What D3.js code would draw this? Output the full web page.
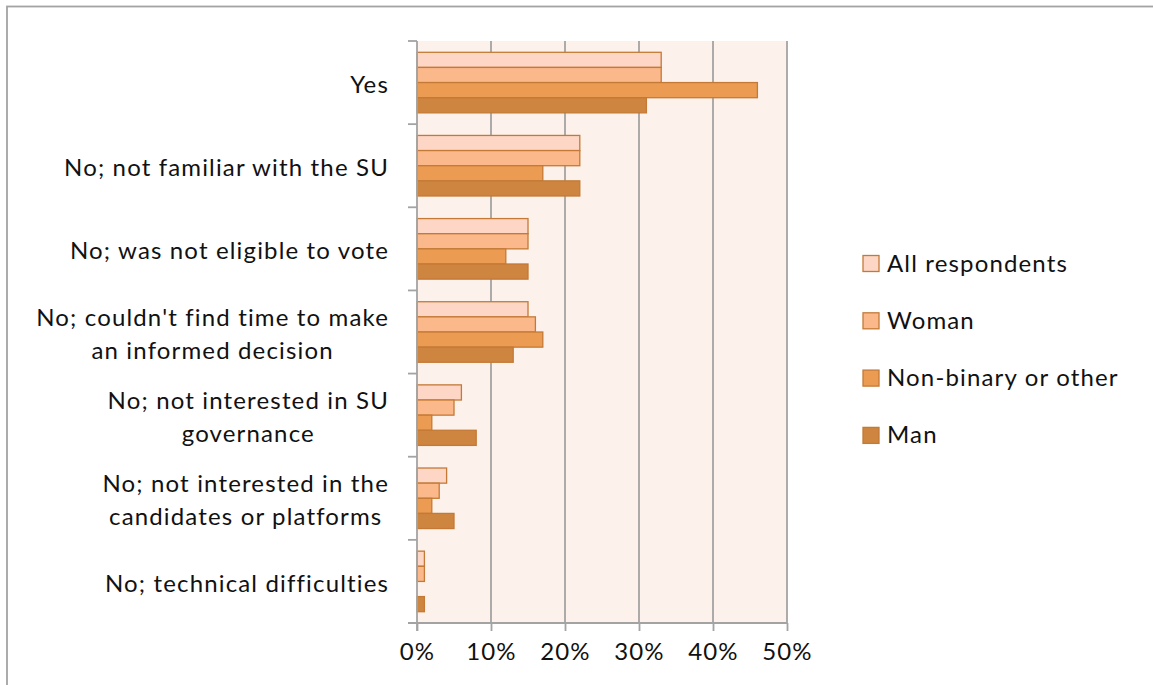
<!DOCTYPE html>
<html>
<head>
<meta charset="utf-8">
<script src="https://cdn.jsdelivr.net/npm/d3@7"></script>
<style>
  html, body { margin: 0; padding: 0; background: #fff; }
  svg { display: block; font-family: Lato, "Open Sans", sans-serif; }
  text { letter-spacing: 1.15px; }
</style>
</head>
<body>
<svg id="chart" width="1153" height="685"></svg>
<script>
// ---- data ----
const categories = [
  "Yes",
  "No; not familiar with the SU",
  "No; was not eligible to vote",
  "No; couldn't find time to make an informed decision",
  "No; not interested in SU governance",
  "No; not interested in the candidates or platforms",
  "No; technical difficulties"
];
const categoryLines = [
  ["Yes"],
  ["No; not familiar with the SU"],
  ["No; was not eligible to vote"],
  ["No; couldn't find time to make", "an informed decision"],
  ["No; not interested in SU", "governance"],
  ["No; not interested in the", "candidates or platforms"],
  ["No; technical difficulties"]
];
const seriesNames = ["All respondents", "Woman", "Non-binary or other", "Man"];
const allRespondents = [0.33, 0.22, 0.15, 0.15, 0.06, 0.04, 0.01];
const woman          = [0.33, 0.22, 0.15, 0.16, 0.05, 0.03, 0.01];
const nonBinary      = [0.46, 0.17, 0.12, 0.17, 0.02, 0.02, 0.00];
const man            = [0.31, 0.22, 0.15, 0.13, 0.08, 0.05, 0.01];
const xTicks = [0, 0.1, 0.2, 0.3, 0.4, 0.5];

const seriesValues = [allRespondents, woman, nonBinary, man];
const fills = ["#FDD6C5", "#FBB98B", "#EC9C52", "#CD853F"];
const strokeCol = "#C47A36";
const gridCol = "#A3A3A3";
const fontSize = 24;

// ---- layout ----
const svg = d3.select("#chart");
const pLeft = 417, pRight = 787, pTop = 41, pBottom = 623;

// outer frame
svg.append("rect")
  .attr("x", 7).attr("y", 6.5)
  .attr("width", 1300).attr("height", 1000)
  .attr("fill", "none").attr("stroke", gridCol).attr("stroke-width", 1.8);

const x = d3.scaleLinear().domain([0, 0.5]).range([pLeft, pRight]);
const y = d3.scaleBand().domain(categories).range([pTop, pBottom]).paddingInner(0).paddingOuter(0);
const groupPad = 11.3;
const ySub = d3.scaleBand().domain(seriesNames).range([groupPad, y.bandwidth() - groupPad]).padding(0);

// plot background
svg.append("rect")
  .attr("x", x(0)).attr("y", pTop)
  .attr("width", x(0.5) - x(0)).attr("height", pBottom - pTop)
  .attr("fill", "#FCF1EB");

// gridlines
svg.append("g").selectAll("line")
  .data(xTicks.filter(d => d > 0))
  .join("line")
  .attr("x1", d => x(d)).attr("x2", d => x(d))
  .attr("y1", pTop).attr("y2", pBottom)
  .attr("stroke", gridCol).attr("stroke-width", 1.8);

// bars
const rows = [];
categories.forEach((c, i) => {
  seriesNames.forEach((s, j) => {
    rows.push({ cat: c, series: s, value: seriesValues[j][i], j });
  });
});
svg.append("g").selectAll("rect")
  .data(rows)
  .join("rect")
  .attr("x", x(0))
  .attr("y", d => y(d.cat) + ySub(d.series))
  .attr("width", d => x(d.value) - x(0))
  .attr("height", ySub.bandwidth())
  .attr("fill", d => fills[d.j])
  .attr("stroke", strokeCol)
  .attr("stroke-width", 1.3);

// bottom axis
const xAxis = d3.axisBottom(x)
  .tickValues(xTicks)
  .tickFormat(d3.format(".0%"))
  .tickSize(8)
  .tickPadding(12);
const gx = svg.append("g").attr("transform", `translate(0,${pBottom})`).call(xAxis);
gx.select(".domain").remove();
gx.selectAll(".tick line").attr("stroke", gridCol).attr("stroke-width", 1.8);
gx.selectAll(".tick text")
  .attr("font-size", fontSize).attr("fill", "#111")
  .attr("font-family", "Lato, sans-serif");
svg.append("line")
  .attr("x1", x(0) - 9).attr("x2", x(0.5))
  .attr("y1", pBottom).attr("y2", pBottom)
  .attr("stroke", gridCol).attr("stroke-width", 1.8);

// left axis line and ticks at band boundaries
svg.append("line")
  .attr("x1", x(0)).attr("x2", x(0))
  .attr("y1", pTop).attr("y2", pBottom + 8)
  .attr("stroke", gridCol).attr("stroke-width", 1.8);
const boundaries = categories.map(c => y(c)).concat([pBottom]);
svg.append("g").selectAll("line")
  .data(boundaries)
  .join("line")
  .attr("x1", x(0) - 9).attr("x2", x(0))
  .attr("y1", d => d).attr("y2", d => d)
  .attr("stroke", gridCol).attr("stroke-width", 1.8);

// category labels
const lineH = 33;
const labelX = 389;
const lg = svg.append("g");
categories.forEach((c, i) => {
  const lines = categoryLines[i];
  const cy = y(c) + y.bandwidth() / 2;
  const t = lg.append("text")
    .attr("font-size", fontSize).attr("fill", "#111");
  const n = lines.length;
  lines.forEach((ln, k) => {
    t.append("tspan").text(ln)
      .attr("y", cy + 10.5 + (k - (n - 1) / 2) * lineH);
  });
  const tsp = t.selectAll("tspan").nodes();
  const ws = tsp.map(nd => nd.getComputedTextLength());
  const maxW = d3.max(ws);
  tsp.forEach(nd => {
    d3.select(nd).attr("x", labelX - maxW / 2).attr("text-anchor", "middle");
  });
});

// legend
const legX = 863, legY0 = 271.5, legStep = 57.3;
const leg = svg.append("g");
seriesNames.forEach((s, j) => {
  const by = legY0 + j * legStep;
  leg.append("rect")
    .attr("x", legX).attr("y", by - 16)
    .attr("width", 16).attr("height", 16)
    .attr("fill", fills[j]).attr("stroke", strokeCol).attr("stroke-width", 1.3);
  leg.append("text")
    .attr("x", legX + 24).attr("y", by)
    .attr("font-size", fontSize).attr("fill", "#111")
    .text(s);
});
</script>
</body>
</html>
